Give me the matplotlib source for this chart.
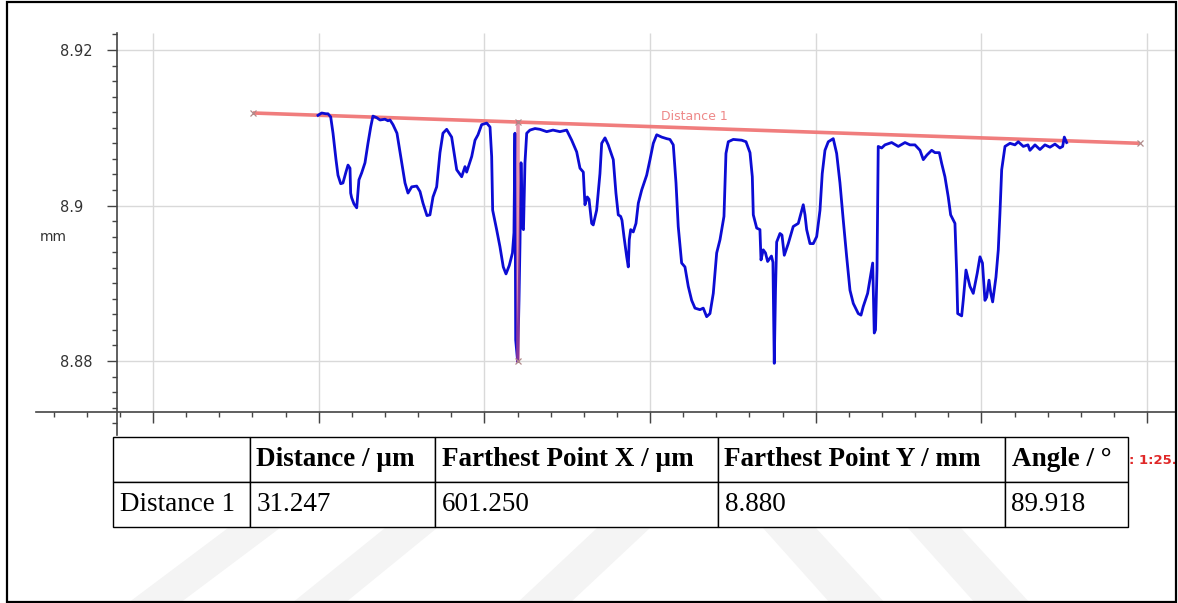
import matplotlib
matplotlib.use('Agg')
import matplotlib.pyplot as plt
from matplotlib.ticker import MultipleLocator, FixedLocator, NullFormatter
from matplotlib.patches import Polygon, Rectangle

# --- profile data (x in um, height in mm) ---
x_um = [399.2, 403.6, 408.8, 411.2, 414.5, 417.3, 420.9, 423.3, 426.6, 429.3,
        432.9, 435.4, 437.8, 438.6, 439.8, 442.6, 445.9, 448.6, 451.9, 455.9,
        459.5, 462.8, 465.5, 470.0, 474.0, 480.0, 483.6, 486.1, 489.7, 494.5,
        499.0, 504.2, 507.8, 512.3, 518.3, 522.3, 525.9, 530.7, 534.3, 538.0,
        542.4, 546.4, 550.0, 554.5, 560.5, 566.6, 572.6, 576.6, 578.6, 584.7,
        588.7, 592.3, 596.7, 602.8, 606.8, 608.8, 610.0, 614.8, 618.8, 622.8,
        626.1, 630.1, 633.9, 635.7, 636.9, 637.8, 640.2, 641.8, 643.0, 644.2,
        646.0, 647.2, 649.0, 651.1, 655.0, 661.1, 667.1, 675.2, 682.8, 691.2,
        699.3, 705.4, 711.4, 715.4, 719.4, 721.4, 724.2, 726.3, 729.5, 731.4,
        735.5, 739.5, 741.6, 745.6, 749.5, 755.6, 758.8, 761.6, 764.5, 766.1,
        768.5, 771.8, 773.7, 774.9, 776.6, 779.7, 783.0, 785.8, 789.9, 795.9,
        799.9, 803.9, 808.0, 814.0, 820.0, 824.0, 828.0, 831.3, 834.0, 838.1,
        842.1, 846.1, 850.2, 854.2, 860.2, 864.2, 868.3, 872.3, 876.3, 880.4,
        884.4, 889.2, 891.6, 894.4, 900.4, 910.6, 915.8, 920.6, 923.4, 924.6,
        928.7, 932.6, 933.9, 936.6, 939.3, 941.9, 946.5, 948.3, 949.9, 951.4,
        952.8, 956.8, 959.2, 962.0, 966.8, 972.8, 978.9, 980.9, 984.9, 987.0,
        989.0, 993.0, 997.0, 1001.1, 1005.1, 1007.8, 1011.1, 1015.1, 1021.1, 1025.2,
        1029.2, 1033.2, 1037.3, 1041.3, 1045.3, 1051.3, 1054.6, 1057.3, 1062.6, 1066.6,
        1068.7, 1070.6, 1072.1, 1073.9, 1075.4, 1079.5, 1083.5, 1091.6, 1099.6, 1107.7,
        1113.7, 1119.7, 1125.8, 1129.8, 1134.2, 1139.9, 1143.9, 1149.1, 1152.0, 1155.9,
        1159.9, 1162.8, 1168.0, 1170.1, 1171.3, 1176.1, 1178.0, 1181.3, 1186.1, 1190.1,
        1194.9, 1198.2, 1201.2, 1204.2, 1206.3, 1209.1, 1211.1, 1213.5, 1217.5, 1220.3,
        1222.3, 1224.4, 1228.4, 1234.4, 1240.4, 1244.4, 1250.5, 1256.1, 1258.5, 1264.6,
        1270.6, 1276.6, 1282.7, 1288.7, 1294.7, 1298.0, 1300.0, 1302.8]

z_mm = [8.9116, 8.9119, 8.9118, 8.9118, 8.9114, 8.9093, 8.9059, 8.9039, 8.9028, 8.9029,
        8.9043, 8.9052, 8.9048, 8.9016, 8.9010, 8.9002, 8.8997, 8.9033, 8.9042, 8.9055,
        8.9080, 8.9101, 8.9115, 8.9113, 8.9110, 8.9111, 8.9109, 8.9110, 8.9104, 8.9093,
        8.9063, 8.9029, 8.9016, 8.9024, 8.9025, 8.9018, 8.9003, 8.8987, 8.8988, 8.9011,
        8.9024, 8.9068, 8.9093, 8.9098, 8.9088, 8.9046, 8.9037, 8.9050, 8.9043, 8.9063,
        8.9084, 8.9091, 8.9104, 8.9106, 8.9101, 8.9063, 8.8994, 8.8969, 8.8947, 8.8921,
        8.8912, 8.8923, 8.8939, 8.8965, 8.9093, 8.8827, 8.8799, 8.8878, 8.8952, 8.9055,
        8.8971, 8.8969, 8.9055, 8.9093, 8.9097, 8.9099, 8.9098, 8.9095, 8.9097, 8.9095,
        8.9097, 8.9084, 8.9069, 8.9048, 8.9043, 8.9001, 8.9011, 8.9008, 8.8977, 8.8975,
        8.8994, 8.9041, 8.9080, 8.9087, 8.9078, 8.9059, 8.9016, 8.8988, 8.8986, 8.8981,
        8.8960, 8.8934, 8.8921, 8.8956, 8.8969, 8.8966, 8.8977, 8.9003, 8.9020, 8.9039,
        8.9059, 8.9080, 8.9091, 8.9088, 8.9086, 8.9085, 8.9078, 8.9029, 8.8973, 8.8926,
        8.8921, 8.8896, 8.8878, 8.8868, 8.8866, 8.8868, 8.8857, 8.8861, 8.8887, 8.8939,
        8.8956, 8.8986, 8.9067, 8.9082, 8.9085, 8.9084, 8.9082, 8.9068, 8.9037, 8.8988,
        8.8971, 8.8969, 8.8930, 8.8943, 8.8939, 8.8928, 8.8935, 8.8927, 8.8797, 8.8891,
        8.8953, 8.8964, 8.8962, 8.8936, 8.8951, 8.8973, 8.8977, 8.8985, 8.9001, 8.8988,
        8.8969, 8.8951, 8.8951, 8.8960, 8.8994, 8.9041, 8.9071, 8.9082, 8.9086, 8.9067,
        8.9029, 8.8981, 8.8934, 8.8891, 8.8874, 8.8861, 8.8859, 8.8870, 8.8887, 8.8913,
        8.8926, 8.8836, 8.8840, 8.8917, 8.9076, 8.9074, 8.9078, 8.9081, 8.9076, 8.9081,
        8.9078, 8.9078, 8.9071, 8.9059, 8.9065, 8.9071, 8.9068, 8.9068, 8.9054, 8.9037,
        8.9011, 8.8988, 8.8977, 8.8913, 8.8861, 8.8858, 8.8878, 8.8917, 8.8896, 8.8887,
        8.8913, 8.8934, 8.8926, 8.8878, 8.8882, 8.8904, 8.8888, 8.8876, 8.8908, 8.8943,
        8.8990, 8.9046, 8.9076, 8.9080, 8.9078, 8.9082, 8.9076, 8.9078, 8.9071, 8.9078,
        8.9072, 8.9078, 8.9075, 8.9079, 8.9074, 8.9076, 8.9088, 8.9081]

# reference line "Distance 1" and its farthest point
line_x = [320.7, 1391.3]
line_z = [8.9119, 8.9080]
far_x = 640.2
far_z = 8.880

y_ticks = [8.88, 8.90, 8.92]
y_ticklabels = ['8.88', '8.9', '8.92']
x_grid = [200, 400, 600, 800, 1000, 1200, 1400]

table_cols = ['', 'Distance / µm', 'Farthest Point X / µm', 'Farthest Point Y / mm', 'Angle / °']
table_row = ['Distance 1', '31.247', '601.250', '8.880', '89.918']
col_widths = [137, 185, 283, 287, 123]

W, H = 1178, 603
fig = plt.figure(figsize=(W / 100, H / 100), dpi=100)
fig.patch.set_facecolor('white')

# watermark stripes (pixel coords on a full-figure overlay)
bg = fig.add_axes([0, 0, 1, 1], zorder=0)
bg.set_xlim(0, W)
bg.set_ylim(H, 0)
bg.axis('off')
stripes = [
    [(128, 603), (180, 603), (280, 528), (228, 528)],
    [(292, 603), (345, 603), (437, 528), (385, 528)],
    [(517, 603), (570, 603), (650, 528), (597, 528)],
    [(763, 528), (816, 528), (885, 603), (830, 603)],
    [(908, 528), (961, 528), (1030, 603), (975, 603)],
]
for s in stripes:
    bg.add_patch(Polygon(s, closed=True, facecolor='#f4f4f4', edgecolor='none'))

# main profile axes
ax = fig.add_axes([36 / W, 1 - 435 / H, (1175 - 36) / W, (435 - 33) / H], zorder=2)
ax.patch.set_alpha(0)
ax.set_xlim(58.8, 1433.6)
ax.set_ylim(8.87048, 8.92219)

axis_x0 = 156.5
axis_y0 = 8.87338
ax.spines['left'].set_position(('data', axis_x0))
ax.spines['bottom'].set_position(('data', axis_y0))
ax.spines['right'].set_visible(False)
ax.spines['top'].set_visible(False)
for sp in ['left', 'bottom']:
    ax.spines[sp].set_color('#444444')
    ax.spines[sp].set_linewidth(1.2)

# grid only inside the measuring area
ax.hlines(y_ticks, axis_x0, 1433.6, color='#d9d9d9', lw=1, zorder=1)
ax.vlines(x_grid, axis_y0 - 0.0012, 8.92219, color='#d9d9d9', lw=1, zorder=1)

ax.yaxis.set_major_locator(FixedLocator(y_ticks))
ax.set_yticklabels(y_ticklabels)
ax.yaxis.set_minor_locator(MultipleLocator(0.002))
ax.xaxis.set_major_locator(FixedLocator(x_grid))
ax.xaxis.set_major_formatter(NullFormatter())
ax.xaxis.set_minor_locator(MultipleLocator(40))

ax.tick_params(axis='y', which='major', direction='out', length=7, width=1,
               color='#444444', pad=34.3, labelsize=10.5, labelcolor='#333333')
ax.tick_params(axis='y', which='minor', direction='out', length=3.5, width=1, color='#444444')
ax.tick_params(axis='x', which='major', direction='out', length=8, width=1, color='#444444')
ax.tick_params(axis='x', which='minor', direction='out', length=3.5, width=1, color='#444444')
plt.setp(ax.get_yticklabels(), ha='left')

# profile
ax.plot(x_um, z_mm, color='#0c0cd4', lw=2.0, zorder=3)

# distance line + farthest point
far_top = line_z[0] + (far_x - line_x[0]) * (line_z[1] - line_z[0]) / (line_x[1] - line_x[0])
ax.plot(line_x, line_z, color='#f07676', lw=2.6, alpha=0.95, zorder=2.5, solid_capstyle='butt')
ax.plot([far_x, far_x], [far_top, far_z], color='#d8507a', lw=2.6, alpha=0.6, zorder=4)
ax.plot(line_x + [far_x, far_x], line_z + [far_top, far_z], ls='none', marker='x',
        ms=4, mew=0.9, color='#b08a8a', zorder=5)
ax.text(854, 8.9115, 'Distance 1', color='#ee8888', fontsize=9, ha='center', va='center', zorder=5)

fig.text(40 / W, 1 - 237 / H, 'mm', fontsize=10, color='#333333', va='center')
fig.text(1129 / W, 1 - 461 / H, ': 1:25.', fontsize=9.5, color='#e02828',
         fontweight='bold', va='center')

# results table
tb = fig.add_axes([0, 0, 1, 1], zorder=6)
tb.axis('off')
total = float(sum(col_widths))
tab = tb.table(cellText=[table_row], colLabels=table_cols,
               colWidths=[w / total for w in col_widths], cellLoc='left', colLoc='left',
               bbox=[113 / W, 1 - 527 / H, (1128 - 113) / W, (527 - 437) / H])
tab.auto_set_font_size(False)
for (r, c), cell in tab.get_celld().items():
    cell.set_edgecolor('black')
    cell.set_linewidth(1.0)
    cell.set_facecolor('white')
    cell.PAD = 6.5 / col_widths[c]
    t = cell.get_text()
    t.set_fontfamily('Liberation Serif')
    t.set_fontsize(19.5)
    if r == 0:
        t.set_fontweight('bold')

# page frame
tb.add_patch(Rectangle((6.5 / W, 1.5 / H), 1 - 9 / W, 1 - 3 / H, transform=fig.transFigure,
                       fill=False, edgecolor='black', lw=1.6))

fig.savefig('out.png', dpi=100)
